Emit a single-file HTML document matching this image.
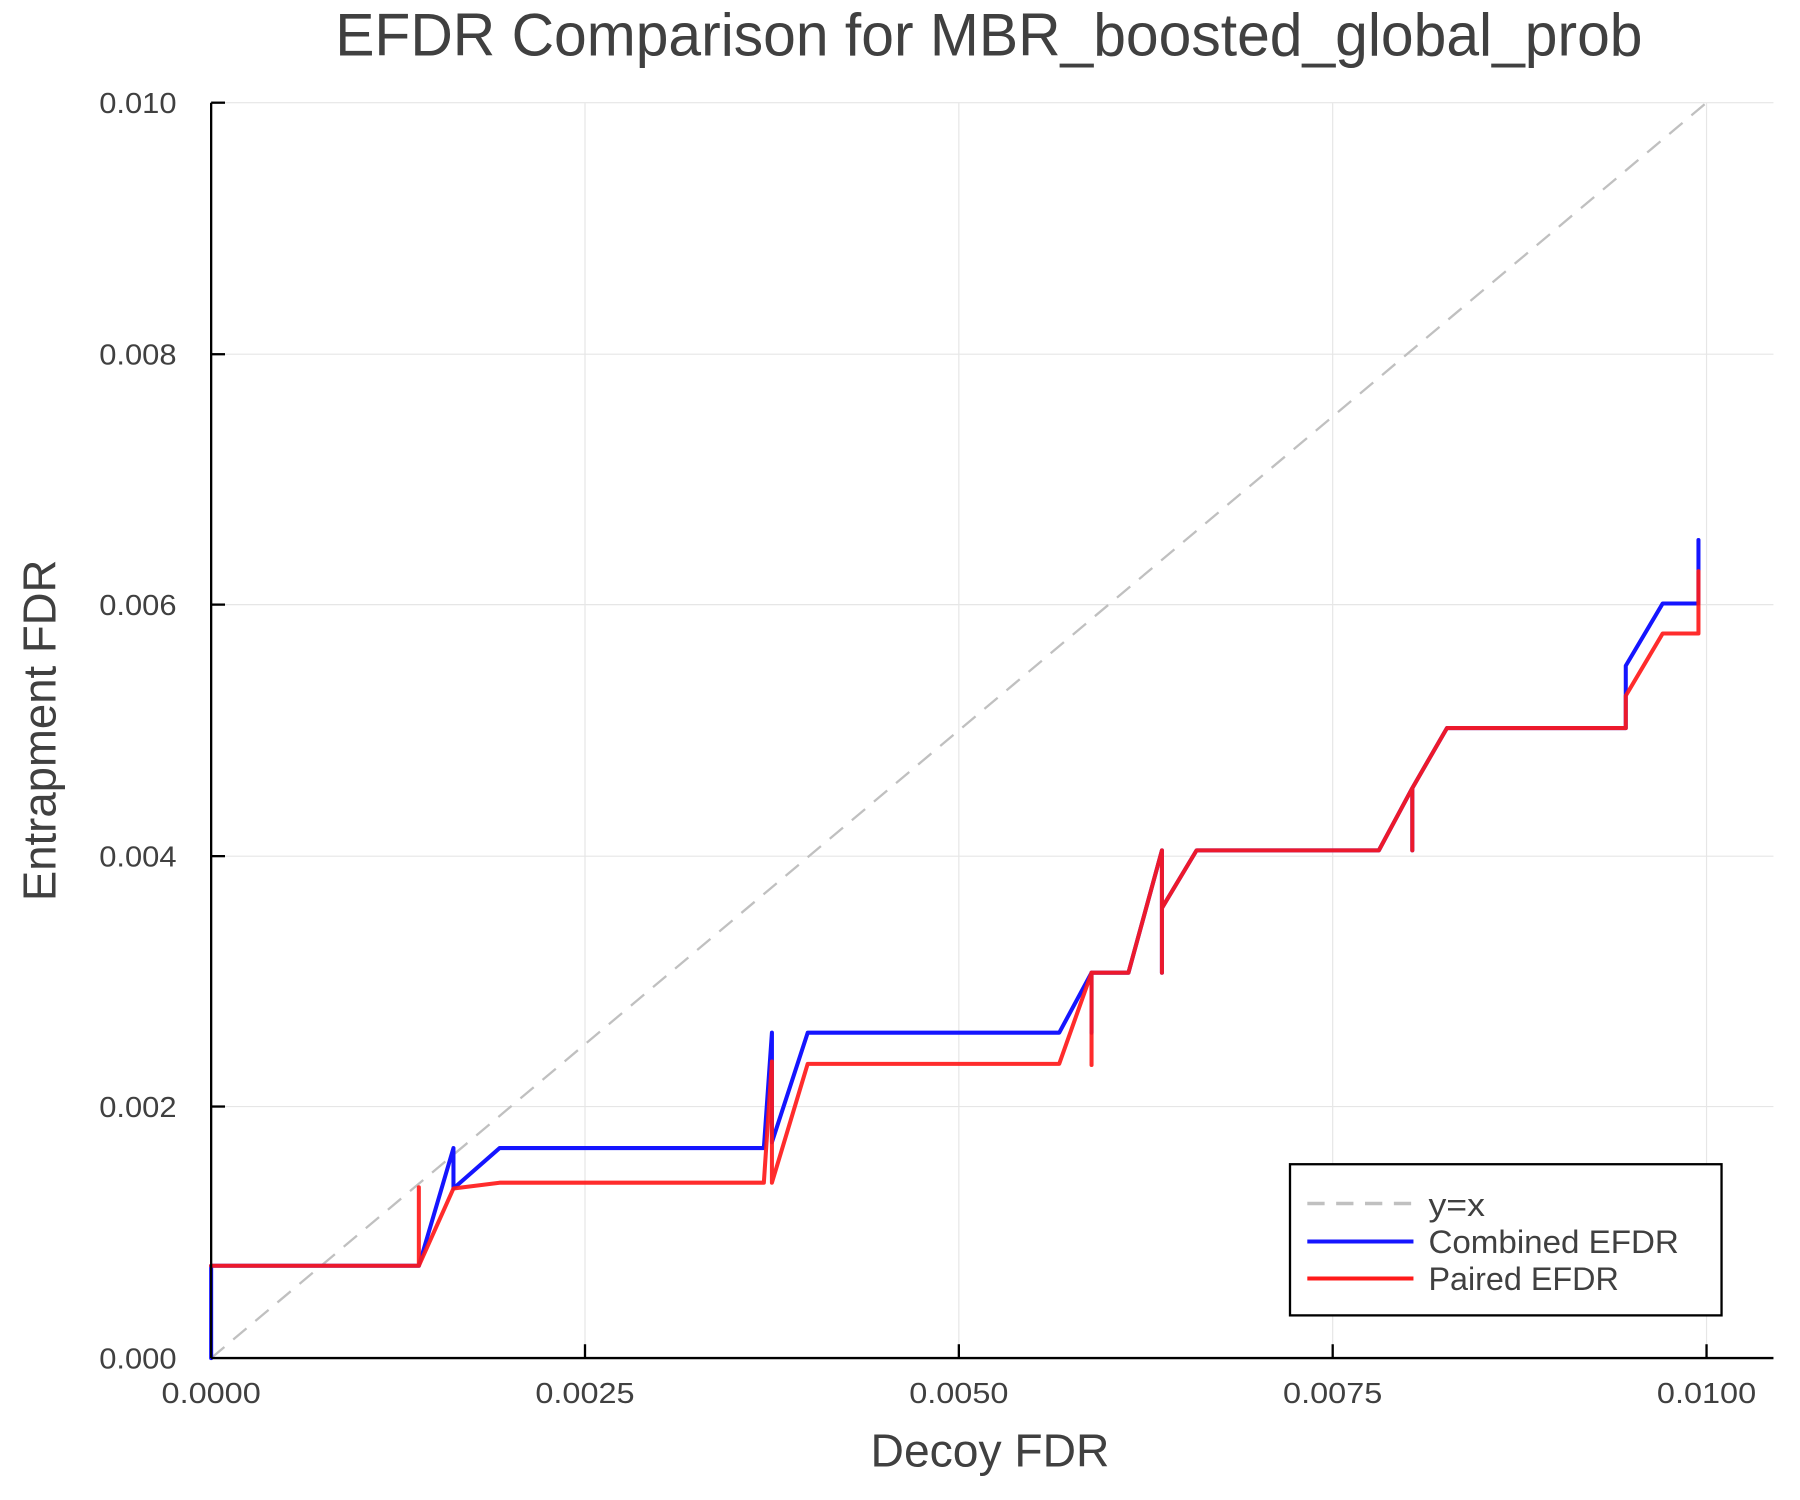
<!DOCTYPE html>
<html><head><meta charset="utf-8"><style>html,body{margin:0;padding:0;background:#fff}svg{display:block}</style></head>
<body>
<svg width="1800" height="1500" viewBox="0 0 1560 1300" xmlns="http://www.w3.org/2000/svg" font-family="Liberation Sans, Helvetica, sans-serif" fill="#404040">
<rect width="1560" height="1300" fill="#fff"/>
<g stroke="#e6e6e6" stroke-width="1">
<line x1="183" y1="89" x2="1537" y2="89"/><line x1="183" y1="307" x2="1537" y2="307"/><line x1="183" y1="524" x2="1537" y2="524"/><line x1="183" y1="742" x2="1537" y2="742"/><line x1="183" y1="959" x2="1537" y2="959"/>
<line x1="507" y1="89" x2="507" y2="1177"/><line x1="831" y1="89" x2="831" y2="1177"/><line x1="1155" y1="89" x2="1155" y2="1177"/><line x1="1479" y1="89" x2="1479" y2="1177"/>
</g>
<line x1="183" y1="1177" x2="1479" y2="89" stroke="#c0c0c0" stroke-width="2" stroke-dasharray="15,10"/>
<g fill="none" stroke-width="3.5" stroke-linejoin="round" stroke-linecap="round">
<polyline stroke="#1515ff" points="183,1177 183,1097 363,1097 393,995 393,1030 433,995 662,995 669,895 669,990 700,895 918,895 946,843 946,895 946,843 978,843 1007,737 1007,843 1007,787 1037,737 1195,737 1224,683 1224,737 1224,683 1254,631 1409,631 1409,577 1441,523 1472,523 1472,468"/>
<polyline stroke="#ff1a1a" stroke-opacity="0.92" points="183,1097 363,1097 363,1029 363,1097 393,1030 433,1025 662,1025 669,920 669,1025 700,922 918,922 946,843 946,923 946,843 978,843 1007,737 1007,843 1007,787 1037,737 1195,737 1224,683 1224,737 1224,683 1254,631 1409,631 1409,603 1441,549 1472,549 1472,495"/>
</g>
<g stroke="#000" stroke-width="2">
<line x1="183" y1="1177" x2="1537" y2="1177"/><line x1="183" y1="89" x2="183" y2="1177"/>
<line x1="183" y1="89" x2="195" y2="89"/><line x1="183" y1="307" x2="195" y2="307"/><line x1="183" y1="524" x2="195" y2="524"/><line x1="183" y1="742" x2="195" y2="742"/><line x1="183" y1="959" x2="195" y2="959"/>
<line x1="507" y1="1177" x2="507" y2="1165"/><line x1="831" y1="1177" x2="831" y2="1165"/><line x1="1155" y1="1177" x2="1155" y2="1165"/><line x1="1479" y1="1177" x2="1479" y2="1165"/>
</g>
<g font-size="25" text-anchor="end">
<text x="153" y="98" textLength="67" lengthAdjust="spacingAndGlyphs">0.010</text><text x="153" y="316" textLength="67" lengthAdjust="spacingAndGlyphs">0.008</text><text x="153" y="533" textLength="67" lengthAdjust="spacingAndGlyphs">0.006</text><text x="153" y="751" textLength="67" lengthAdjust="spacingAndGlyphs">0.004</text><text x="153" y="968" textLength="67" lengthAdjust="spacingAndGlyphs">0.002</text><text x="153" y="1186" textLength="67" lengthAdjust="spacingAndGlyphs">0.000</text>
</g>
<g font-size="25" text-anchor="middle">
<text x="183" y="1216" textLength="86" lengthAdjust="spacingAndGlyphs">0.0000</text><text x="507" y="1216" textLength="86" lengthAdjust="spacingAndGlyphs">0.0025</text><text x="831" y="1216" textLength="86" lengthAdjust="spacingAndGlyphs">0.0050</text><text x="1155" y="1216" textLength="86" lengthAdjust="spacingAndGlyphs">0.0075</text><text x="1479" y="1216" textLength="86" lengthAdjust="spacingAndGlyphs">0.0100</text>
</g>
<text x="857" y="48" font-size="52" text-anchor="middle" textLength="1133" lengthAdjust="spacingAndGlyphs">EFDR Comparison for MBR_boosted_global_prob</text>
<text x="858" y="1271" font-size="40" text-anchor="middle" textLength="207" lengthAdjust="spacingAndGlyphs">Decoy FDR</text>
<text transform="translate(48,633) rotate(-90)" font-size="40" text-anchor="middle" textLength="296" lengthAdjust="spacingAndGlyphs">Entrapment FDR</text>
<rect x="1118" y="1009" width="374" height="131" fill="#fff" stroke="#000" stroke-width="2"/>
<line x1="1133" y1="1043" x2="1225" y2="1043" stroke="#c0c0c0" stroke-width="3" stroke-dasharray="15,10"/>
<line x1="1133" y1="1076" x2="1225" y2="1076" stroke="#1515ff" stroke-width="3.5"/>
<line x1="1133" y1="1108" x2="1225" y2="1108" stroke="#ff1a1a" stroke-width="3.5"/>
<g font-size="28"><text x="1238" y="1054" textLength="49" lengthAdjust="spacingAndGlyphs">y=x</text><text x="1238" y="1086" textLength="217" lengthAdjust="spacingAndGlyphs">Combined EFDR</text><text x="1238" y="1118" textLength="165" lengthAdjust="spacingAndGlyphs">Paired EFDR</text></g>
</svg>
</body></html>
